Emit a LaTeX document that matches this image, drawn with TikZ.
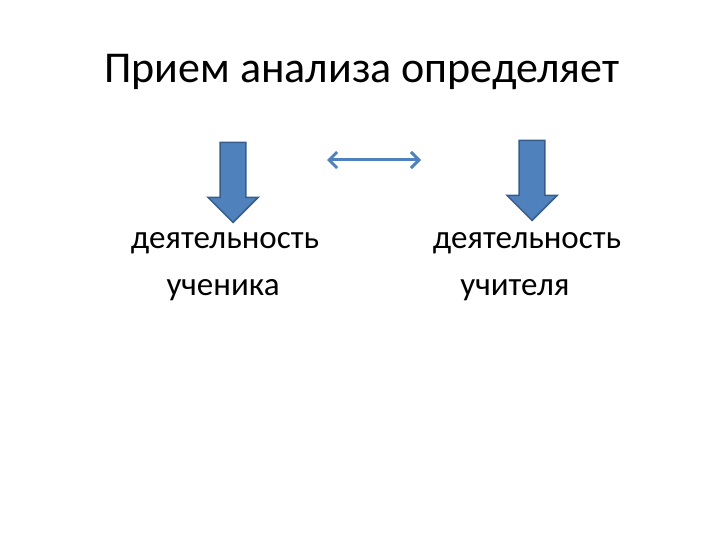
\documentclass[tikz,border=0pt]{standalone}
\usepackage{fontspec}
\setmainfont{Carlito}
\usetikzlibrary{shapes.arrows,arrows.meta}
\definecolor{fillblue}{HTML}{4F81BD}
\definecolor{edgeblue}{HTML}{385D8A}
\tikzset{
 blockarrow/.style={single arrow,rotate=-90,fill=fillblue,draw=edgeblue,line width=1.5pt,inner sep=12pt,minimum width=50pt,minimum height=80pt,single arrow head extend=12pt},
 lbl/.style={font=\fontsize{33}{38}\selectfont,anchor=center,inner sep=0pt}
}
\begin{document}
\begin{tikzpicture}[x=1pt,y=-1pt]
\useasboundingbox (0,0) rectangle (720,540);
\node[font=\fontsize{44}{50}\selectfont,inner sep=0pt] (title) at (362,72) {Прием анализа определяет};
\node[blockarrow] (la) at (233,176) {};
\node[blockarrow] (ra) at (532,174) {};
\coordinate (dl) at (327,160);
\coordinate (dr) at (421,160);
\draw[{Straight Barb[length=8pt,width=16pt]}-{Straight Barb[length=8pt,width=16pt]},draw=fillblue,line width=3pt] (dl) -- (dr);
\node[lbl] (l1) at (225,243) {деятельность};
\node[lbl] (l2) at (223,290) {ученика};
\node[lbl] (r1) at (527,243) {деятельность};
\node[lbl] (r2) at (515,290) {учителя};
\end{tikzpicture}
\end{document}
